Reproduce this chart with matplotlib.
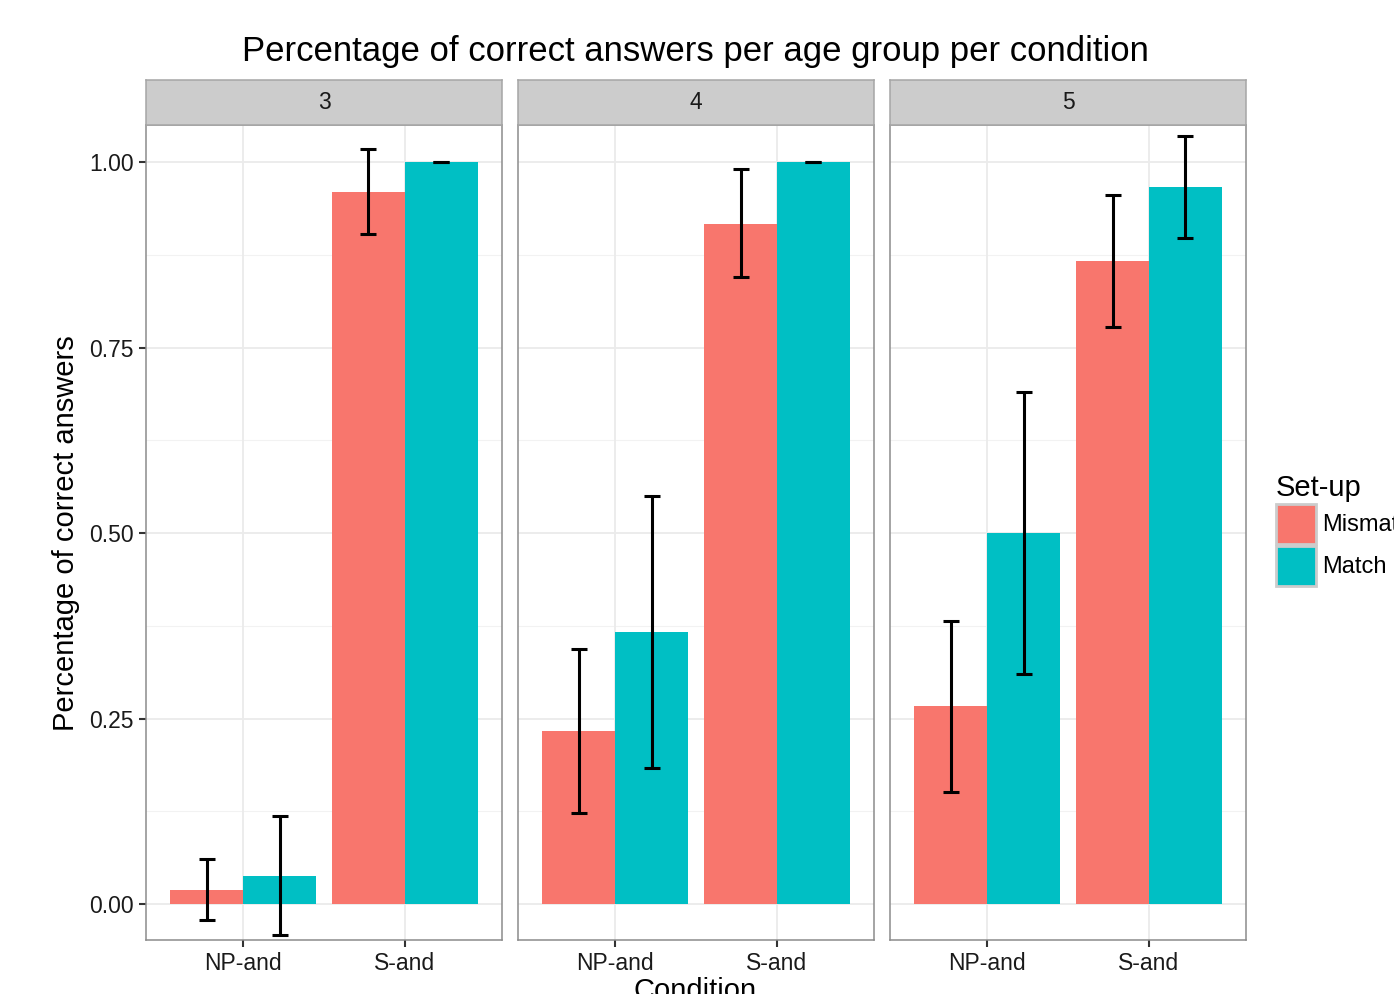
import matplotlib
matplotlib.use('Agg')
import matplotlib.pyplot as plt
from matplotlib.patches import Patch
import numpy as np

plt.rcParams['font.family'] = ['Liberation Sans', 'DejaVu Sans']

# data
ages = ['3', '4', '5']
conditions = ['NP-and', 'S-and']
setups = ['Mismatch', 'Match']
COLORS = ['#F8766D', '#00BFC4']

# mean per age, [condition][setup]
means = {
    '3': [[0.019, 0.038], [0.960, 1.000]],
    '4': [[0.233, 0.367], [0.917, 1.000]],
    '5': [[0.267, 0.500], [0.867, 0.967]],
}
lower = {
    '3': [[-0.021, -0.042], [0.903, 1.000]],
    '4': [[0.122, 0.183], [0.845, 1.000]],
    '5': [[0.151, 0.310], [0.778, 0.898]],
}
upper = {
    '3': [[0.060, 0.118], [1.017, 1.000]],
    '4': [[0.344, 0.550], [0.990, 1.000]],
    '5': [[0.382, 0.690], [0.955, 1.035]],
}
yticks = [0.0, 0.25, 0.5, 0.75, 1.0]
ytick_labels = ['0.00', '0.25', '0.50', '0.75', '1.00']

W, H = 1394, 994
fig = plt.figure(figsize=(W / 100, H / 100), dpi=100)

panel_left = [146, 518, 890]
panel_w = 356
top_px, bot_px, strip_px = 125, 940, 45

for i, age in enumerate(ages):
    ax = fig.add_axes([panel_left[i] / W, 1 - bot_px / H, panel_w / W, (bot_px - top_px) / H])
    ax.set_facecolor('white')
    ax.set_xlim(0.4, 2.6)
    ax.set_ylim(-0.0485, 1.0499)
    # grid
    for y in [0.125, 0.375, 0.625, 0.875]:
        ax.axhline(y, color='#F2F2F2', lw=0.8, zorder=0)
    for y in yticks:
        ax.axhline(y, color='#EBEBEB', lw=1.3, zorder=0)
    for x in [1, 2]:
        ax.axvline(x, color='#EBEBEB', lw=1.3, zorder=0)
    x = np.arange(1, len(conditions) + 1)
    bw = 0.45
    for j, s in enumerate(setups):
        vals = np.array([means[age][c][j] for c in range(2)])
        lo = np.array([lower[age][c][j] for c in range(2)])
        hi = np.array([upper[age][c][j] for c in range(2)])
        xs = x - bw / 2 + j * bw
        ax.bar(xs, vals, width=bw, color=COLORS[j], zorder=2)
        ax.errorbar(xs, vals, yerr=[vals - lo, hi - vals], fmt='none', ecolor='black',
                    elinewidth=2.2, capsize=5.5, capthick=2.2, zorder=3)
    for sp in ax.spines.values():
        sp.set_color('#8C8C8C')
        sp.set_linewidth(1.1)
    ax.set_xticks(x)
    ax.set_xticklabels(conditions, fontsize=16.5, color='#1a1a1a')
    ax.set_yticks(yticks)
    ax.tick_params(axis='both', color='#333333', width=1.5, length=5, pad=4)
    if i == 0:
        ax.set_yticklabels(ytick_labels, fontsize=16.5, color='#1a1a1a')
    else:
        ax.set_yticklabels([])
        ax.tick_params(axis='y', length=0)

    # strip
    sax = fig.add_axes([panel_left[i] / W, 1 - top_px / H, panel_w / W, strip_px / H])
    sax.set_facecolor('#CCCCCC')
    sax.set_xticks([])
    sax.set_yticks([])
    for sp in sax.spines.values():
        sp.set_color('#A6A6A6')
        sp.set_linewidth(1.1)
    sax.text(0.5, 0.5, age, ha='center', va='center', fontsize=16.5,
             color='#1a1a1a', transform=sax.transAxes)

fig.text(695 / W, 1 - 51 / H, 'Percentage of correct answers per age group per condition',
         ha='center', va='center', fontsize=25)
fig.text(66 / W, 1 - 533 / H, 'Percentage of correct answers', rotation=90,
         ha='center', va='center', fontsize=21)
fig.text(695 / W, 1 - 977 / H, 'Condition', ha='center', va='top', fontsize=21)

handles = [Patch(facecolor=c, edgecolor='#CCCCCC', linewidth=2) for c in COLORS]
leg = fig.legend(handles, setups, loc='upper left', bbox_to_anchor=(1276 / W, 1 - 474 / H),
                 frameon=False, fontsize=17, title='Set-up', title_fontsize=21,
                 handlelength=1.7, handleheight=2.24, labelspacing=0.08,
                 handletextpad=0.25, borderaxespad=0, borderpad=0)
leg._legend_box.align = 'left'

fig.savefig('out.png', dpi=100)
